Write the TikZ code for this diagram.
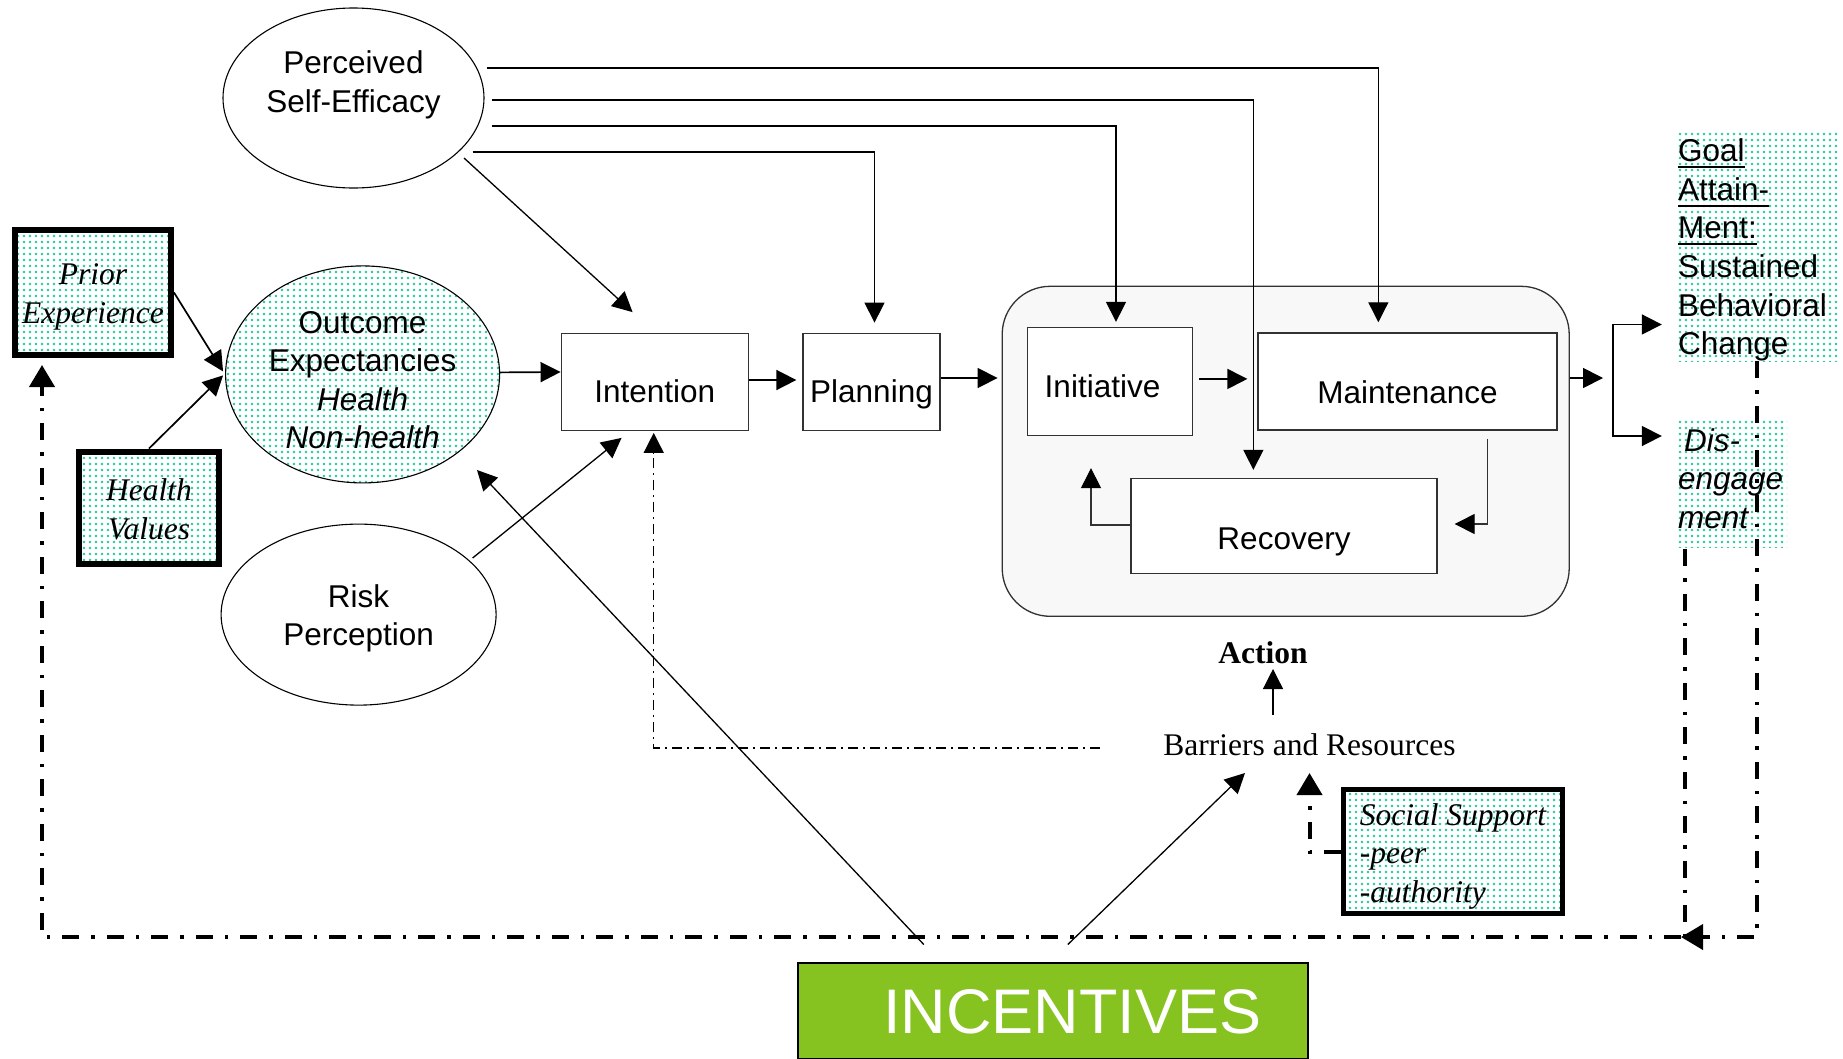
\documentclass[tikz,border=0pt]{standalone}
\usepackage{fontspec}
\setmainfont{Liberation Serif}
\setsansfont{Liberation Sans}
\usetikzlibrary{arrows.meta,shapes.geometric,patterns.meta,calc}
\definecolor{dotcol}{RGB}{30,200,160}
\definecolor{incgreen}{RGB}{135,195,32}
\definecolor{boxline}{RGB}{50,50,50}
\definecolor{contfill}{RGB}{248,248,248}
\newcommand\myfs{\fontsize{31.5}{38.6}\selectfont}
\newcommand\myul[1]{\leavevmode\setbox0\hbox{#1}\rlap{\rule[-6.5pt]{\wd0}{2.2pt}}\box0}
\newcommand\tall[1]{\rule{0pt}{#1}}
\newcommand\deep[1]{\rule[-#1]{0pt}{#1}}
\begin{document}
\begin{tikzpicture}[x=1pt,y=-1pt,
  >={Triangle[length=20pt,width=20pt]},
  dotted fill/.style={preaction={fill=white}, pattern={Dots[distance=6pt,radius=1.4pt]}, pattern color=dotcol},
  ell/.style={ellipse, draw, line width=1.1pt, inner sep=0pt, font=\sffamily\myfs, align=center},
  stagebox/.style={rectangle, draw=boxline, line width=1.3pt, fill=white, inner sep=0pt, font=\sffamily\myfs},
  thickbox/.style={rectangle, draw, line width=6pt, dotted fill, inner sep=0pt, font=\rmfamily\itshape\myfs, align=center},
  conn/.style={->, line width=1.7pt},
  thinconn/.style={-{Triangle[length=20pt,width=20pt,color=black]}, line width=1.2pt, draw=boxline},
  seline/.style={->, line width=1.3pt},
  fbline/.style={line width=4pt, dash pattern=on 17pt off 12pt on 3.5pt off 12pt, -{Triangle[length=22pt,width=25pt]}},
  fbplain/.style={line width=4pt, dash pattern=on 17pt off 12pt on 3.5pt off 12pt},
  thindash/.style={->, line width=1.4pt, dash pattern=on 10pt off 5pt on 2pt off 5pt},
]
\useasboundingbox (0,0) rectangle (1843,1058);
\clip (0,0) rectangle (1843,1058);
\fill[white] (0,0) rectangle (1843,1058);

% action container
\node[draw=boxline, line width=1.3pt, fill=contfill, rounded corners=48pt,
      minimum width=567pt, minimum height=330pt, inner sep=0pt] (cont) at (1285.7,451.3) {};

% stage boxes
\node[stagebox, minimum width=187pt, minimum height=97.5pt, text height=40.6pt, text depth=0pt] (intent) at (654.7,382) {Intention};
\node[stagebox, minimum width=137pt, minimum height=97.5pt, text height=40.6pt, text depth=0pt] (plan) at (871.5,382) {Planning};
\node[stagebox, minimum width=165pt, minimum height=108pt, text height=32.6pt, text depth=0pt] (init) at (1110,381.5) {Initiative\hspace*{15pt}};
\node[stagebox, minimum width=299pt, minimum height=97pt, text height=44.6pt, text depth=0pt] (maint) at (1407.5,381.4) {Maintenance};
\node[stagebox, minimum width=306pt, minimum height=95pt, text height=46.6pt, text depth=0pt] (recov) at (1284,526) {Recovery};

% ellipses
\node[ell, minimum width=261pt, minimum height=180pt] (pse) at (353.5,98) {};
\node[font=\sffamily\myfs, align=center, inner sep=0pt] (pset) at (353.5,85) {Perceived\\Self-Efficacy};
\node[ell, dotted fill, minimum width=274pt, minimum height=217pt] (oe) at (362.6,374.4) {\tall{33.6pt}Outcome\\Expectancies\\\textit{Health}\\\textit{Non-health}};
\node[ell, minimum width=275pt, minimum height=181pt] (risk) at (358.6,614.6) {\tall{30pt}Risk\\Perception};

% thick dotted boxes
\node[thickbox, minimum width=156pt, minimum height=125pt] (prior) at (93,292.5) {\tall{30pt}Prior\\Experience};
\node[thickbox, minimum width=140pt, minimum height=112pt] (health) at (149,507.5) {\tall{25pt}Health\\Values};
\node[thickbox, line width=4.5pt, minimum width=219pt, minimum height=124pt, align=left] (soc) at (1453,851.5) {\tall{31.5pt}Social Support\\-peer\\-authority};

% outcome boxes
\node[dotted fill, inner sep=0pt, text width=160pt, align=left, minimum height=228pt, font=\sffamily\myfs] (goal) at (1757,246)
  {\hspace*{1pt}\tall{31pt}\myul{Goal}\\\hspace*{1pt}\myul{Attain-}\\\hspace*{1pt}\myul{Ment:}\\\hspace*{1pt}Sustained\\\hspace*{1pt}Behavioral\\\hspace*{1pt}Change};
\node[dotted fill, inner sep=1pt, text width=108pt, align=left, minimum height=127pt, font=\sffamily\itshape\myfs] (dis) at (1732,483.5)
  {\hspace*{6pt}Dis-\\engage\\ment\deep{10pt}};

% free texts
\node[font=\rmfamily\myfs, anchor=base, inner sep=0pt] (barr) at (1309.5,755.5) {Barriers and Resources};
\node[font=\rmfamily\bfseries\myfs, anchor=base, inner sep=0pt] (action) at (1263,663.5) {Action};

% incentives
\node[fill=incgreen, draw=black, line width=2pt, minimum width=510pt, minimum height=96pt, inner sep=0pt,
      font=\sffamily\fontsize{63}{70}\selectfont, text=white, text height=45pt, text depth=0pt] (inc) at (1052.8,1011)
  {\hspace*{39pt}INCENTIVES};

% main flow
\draw[conn] ($(oe.east)+(0,-2)$) -- ($(intent.west)+(0,-10)$);
\draw[conn] (prior.east) -- ($(oe.west)+(-2,-3)$);
\draw[conn] (health.north) -- ($(oe.west)+(-2,1)$);
\draw[conn] ($(intent.east)+(0,-2)$) -- ($(plan.west)+(-6,-2)$);
\draw[conn] ($(plan.east)+(0,-4)$) -- ($(cont.west |- plan.east)+(-4,-4)$);
\draw[conn] ($(init.east)+(6,-2.5)$) -- ($(maint.west)+(-10,-2.5)$);
\draw[thinconn] ($(maint.south east)+(-70,8)$) |- ($(recov.east)+(17,-2)$);
\draw[thinconn] ($(recov.west)+(0,-1)$) -| ($(init.south)+(-19,32)$);

% branch to outcomes
\coordinate (br) at (1613,378);
\draw[conn] (cont.east |- br) -- ($(br)+(-10,0)$);
\draw[conn] (br) |- ($(goal.south west)+(-15,-37)$);
\draw[conn] (br) |- ($(dis.west)+(-15,-47.5)$);

% self-efficacy links
\draw[seline] ($(pse.east)+(2,-30)$) -| ($(maint.north west)+(121,-10)$);
\draw[seline] ($(pse.east)+(7,2)$) -| ($(recov.north west)+(123,-8)$);
\draw[seline] ($(pse.east)+(7,28)$) -| ($(init.north)+(6,-5)$);
\draw[seline] ($(pse.east)+(-12,54)$) -| ($(plan.north)+(3,-10)$);
\draw[seline] ($(pse.center)+(110.5,60)$) -- ($(intent.north west)+(72,-20.5)$);
\draw[seline] ($(risk.center)+(114,-56.6)$) -- ($(intent.south west)+(61,6.5)$);

% incentives links
\draw[seline] ($(inc.north west)+(127,-17.5)$) -- ($(oe.center)+(114.4,95.6)$);
\draw[seline] ($(inc.north west)+(271,-17.5)$) -- ($(barr.base)+(-64.5,17.5)$);

% barriers
\draw[seline] ($(barr.base)+(-36.5,-40.5)$) -- ($(action.base)+(10,5.5)$);
\draw[thindash] ($(barr.base)+(-209.5,-7.5)$) -| ($(intent.south)+(-1,1.5)$);
\draw[fbline] (soc.west) -| ($(barr.base)+(0,17.5)$);

% feedback loop
\coordinate (fbM) at (1681,937);
\draw[fbline] (goal.south) |- (fbM);
\coordinate (disb) at ($(dis.south west)+(8,2)$);
\draw[fbplain] (disb) -- (disb |- fbM);
\draw[fbline] (fbM) -| ($(prior.south west)+(30,7)$);
\end{tikzpicture}
\end{document}
